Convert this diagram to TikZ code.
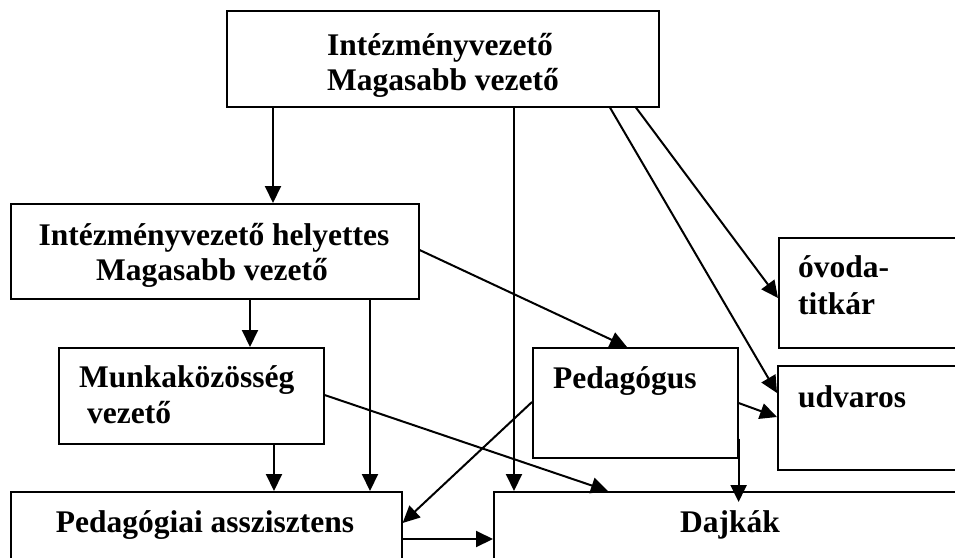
\documentclass[tikz,border=0pt]{standalone}
\usepackage{fontspec}
\setmainfont{Liberation Serif}
\usetikzlibrary{arrows.meta,calc}
\tikzset{
  box/.style={draw=black, line width=1.6pt, rectangle, inner sep=0pt, anchor=north west},
  txt/.style={inner sep=0pt, font=\fontsize{31.5}{35}\selectfont\bfseries},
  arr/.style={line width=2pt, -{Triangle[length=17pt,width=16pt]}},
}
\begin{document}
\begin{tikzpicture}[x=1pt,y=-1pt]
\useasboundingbox (0,0) rectangle (955,557);
\clip (0,0) rectangle (955,557);
% boxes
\node[box, minimum width=432pt, minimum height=96pt] (top) at (226,10) {};
\node[box, minimum width=408pt, minimum height=95pt] (ih) at (10,203) {};
\node[box, minimum width=265pt, minimum height=96pt] (mk) at (58,347) {};
\node[box, minimum width=391pt, minimum height=120pt] (pa) at (10,491) {};
\node[box, minimum width=520pt, minimum height=120pt] (dj) at (493,491) {};
\node[box, minimum width=205pt, minimum height=110pt] (ped) at (532,347) {};
\node[box, minimum width=230pt, minimum height=110pt] (ov) at (778,237) {};
\node[box, minimum width=230pt, minimum height=104pt] (ud) at (777,365) {};
% texts
\node[txt, anchor=base] (t1) at (440,55) {Intézményvezető};
\node[txt, anchor=base] (t2) at (443,90) {Magasabb vezető};
\node[txt, anchor=base] (t3) at (214,245) {Intézményvezető helyettes};
\node[txt, anchor=base] (t4) at (212,280) {Magasabb vezető};
\node[txt, anchor=base west] (t5) at (79,387) {Munkaközösség};
\node[txt, anchor=base west] (t6) at (87,423) {vezető};
\node[txt, anchor=base] (t7) at (205,532) {Pedagógiai asszisztens};
\node[txt, anchor=base] (t8) at (730,532) {Dajkák};
\node[txt, anchor=base west] (t9) at (553,388) {Pedagógus};
\node[txt, anchor=base west] (t10) at (798,407) {udvaros};
\node[txt, anchor=base west] (t11) at (798,277) {óvoda-};
\node[txt, anchor=base west] (t12) at (798,314) {titkár};
% connectors
\draw[arr] (273,0 |- top.south) -- (273,0 |- ih.north);
\draw[arr] (514,0 |- top.south) -- (514,0 |- dj.north);
\draw[arr] (610,0 |- top.south) -- (ud.west |- 0,393);
\draw[arr] (636,0 |- top.south) -- (ov.west |- 0,298);
\draw[arr] (250,0 |- ih.south) -- (250,0 |- mk.north);
\draw[arr] (370,0 |- ih.south) -- (370,0 |- pa.north);
\draw[arr] (ih.east |- 0,250) -- (627,0 |- ped.north);
\draw[arr] (274,0 |- mk.south) -- (274,0 |- pa.north);
\draw[arr] (mk.east |- 0,395) -- (608,0 |- dj.north);
\draw[arr] (ped.west |- 0,402) -- (pa.east |- 0,523);
\draw[arr] (pa.east |- 0,539) -- (dj.west |- 0,539);
\draw[arr] (ped.east |- 0,403) -- (ud.west |- 0,417);
\draw[arr] ($(ped.south east)+(0,-20)$) -- ($(ped.east |- dj.north)+(0,11)$);
\end{tikzpicture}
\end{document}
